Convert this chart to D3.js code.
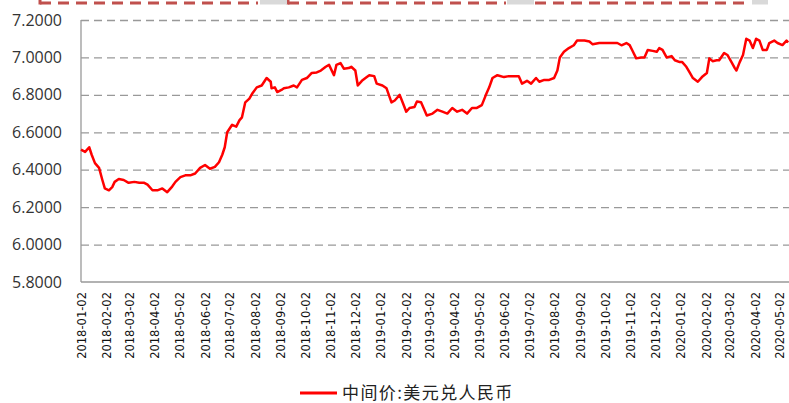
<!DOCTYPE html>
<html>
<head>
<meta charset="utf-8">
<script src="https://cdn.jsdelivr.net/npm/d3@7"></script>
<style>
  body { margin: 0; background: #fff; }
  svg { display: block; }
</style>
</head>
<body>
<div id="chart"></div>
<script>
// values
var dates = [
  "2018-01-02","2018-01-07","2018-01-12","2018-01-15","2018-01-19","2018-01-24","2018-01-28","2018-01-31",
  "2018-02-05","2018-02-09","2018-02-12","2018-02-17","2018-02-23","2018-03-01","2018-03-08","2018-03-14",
  "2018-03-20","2018-03-24","2018-03-30","2018-04-05","2018-04-11","2018-04-17","2018-04-23","2018-04-27",
  "2018-05-03","2018-05-09","2018-05-15","2018-05-21","2018-05-27","2018-06-02","2018-06-08","2018-06-14",
  "2018-06-19","2018-06-23","2018-06-26","2018-06-29","2018-07-05","2018-07-10","2018-07-14","2018-07-17",
  "2018-07-21","2018-07-26","2018-07-30","2018-08-04","2018-08-10","2018-08-16","2018-08-21","2018-08-22",
  "2018-08-26","2018-08-29","2018-09-03","2018-09-06","2018-09-12","2018-09-18","2018-09-22","2018-09-28",
  "2018-10-04","2018-10-10","2018-10-16","2018-10-21","2018-10-27","2018-10-31","2018-11-06","2018-11-09",
  "2018-11-14","2018-11-18","2018-11-24","2018-11-27","2018-12-02","2018-12-05","2018-12-10","2018-12-16",
  "2018-12-19","2018-12-25","2018-12-28","2019-01-04","2019-01-09","2019-01-15","2019-01-19","2019-01-25",
  "2019-01-29","2019-02-02","2019-02-06","2019-02-12","2019-02-15","2019-02-20","2019-02-24","2019-02-27",
  "2019-03-06","2019-03-12","2019-03-18","2019-03-24","2019-03-30","2019-04-05","2019-04-11","2019-04-17",
  "2019-04-23","2019-04-29","2019-05-05","2019-05-10","2019-05-14","2019-05-18","2019-05-24","2019-06-01",
  "2019-06-07","2019-06-13","2019-06-19","2019-06-23","2019-06-29","2019-07-04","2019-07-10","2019-07-14",
  "2019-07-20","2019-07-26","2019-08-01","2019-08-05","2019-08-08","2019-08-13","2019-08-19","2019-08-25",
  "2019-08-29","2019-09-07","2019-09-13","2019-09-17","2019-09-25","2019-10-07","2019-10-17","2019-10-22",
  "2019-10-28","2019-11-01","2019-11-04","2019-11-09","2019-11-15","2019-11-19","2019-11-23","2019-11-29",
  "2019-12-04","2019-12-07","2019-12-11","2019-12-16","2019-12-22","2019-12-26","2020-01-01","2020-01-04",
  "2020-01-09","2020-01-13","2020-01-17","2020-01-23","2020-01-28","2020-02-03","2020-02-06","2020-02-10",
  "2020-02-15","2020-02-18","2020-02-24","2020-02-28","2020-03-04","2020-03-08","2020-03-10","2020-03-14",
  "2020-03-18","2020-03-22","2020-03-26","2020-03-30","2020-04-03","2020-04-07","2020-04-11","2020-04-16",
  "2020-04-19","2020-04-25","2020-04-29","2020-05-05","2020-05-10","2020-05-12"
];
var rates = [
  6.507,6.495,6.52,6.48,6.435,6.41,6.345,6.30,
  6.29,6.307,6.335,6.35,6.345,6.33,6.335,6.33,
  6.33,6.32,6.29,6.29,6.30,6.28,6.31,6.335,
  6.36,6.37,6.37,6.38,6.41,6.425,6.405,6.415,
  6.44,6.48,6.52,6.60,6.64,6.63,6.665,6.68,
  6.76,6.78,6.81,6.84,6.85,6.89,6.87,6.835,
  6.84,6.815,6.826,6.835,6.84,6.85,6.84,6.88,
  6.89,6.917,6.92,6.93,6.95,6.96,6.905,6.96,
  6.97,6.94,6.943,6.95,6.93,6.85,6.875,6.895,
  6.905,6.90,6.86,6.85,6.835,6.76,6.77,6.80,
  6.755,6.71,6.73,6.735,6.765,6.76,6.72,6.69,
  6.70,6.72,6.71,6.70,6.73,6.71,6.72,6.70,
  6.73,6.73,6.745,6.80,6.84,6.89,6.905,6.895,
  6.90,6.90,6.90,6.86,6.875,6.86,6.89,6.87,
  6.88,6.88,6.89,6.93,7.00,7.03,7.05,7.065,
  7.09,7.09,7.085,7.07,7.077,7.077,7.077,7.065,
  7.077,7.066,7.04,6.995,7.00,7.00,7.04,7.035,
  7.03,7.05,7.04,7.00,7.007,6.985,6.975,6.975,
  6.95,6.92,6.89,6.87,6.895,6.917,6.995,6.98,
  6.985,6.985,7.024,7.013,6.975,6.943,6.93,6.975,
  7.013,7.10,7.09,7.05,7.10,7.09,7.04,7.04,
  7.077,7.09,7.077,7.066,7.09,7.08
];
var yTicks = [5.8, 6.0, 6.2, 6.4, 6.6, 6.8, 7.0, 7.2];
var xTickLabels = [
  "2018-01-02","2018-02-02","2018-03-02","2018-04-02","2018-05-02","2018-06-02","2018-07-02",
  "2018-08-02","2018-09-02","2018-10-02","2018-11-02","2018-12-02","2019-01-02","2019-02-02",
  "2019-03-02","2019-04-02","2019-05-02","2019-06-02","2019-07-02","2019-08-02","2019-09-02",
  "2019-10-02","2019-11-02","2019-12-02","2020-01-02","2020-02-02","2020-03-02","2020-04-02",
  "2020-05-02"
];
var seriesName = "中间价:美元兑人民币";

var W = 789, H = 403;
var margin = {top: 20, right: 0, bottom: 121, left: 81};
var plotW = W - margin.left - margin.right;
var plotH = H - margin.top - margin.bottom;

var parse = d3.timeParse("%Y-%m-%d");
var data = dates.map(function(d, i) {
  return {date: parse(d), value: rates[i]};
});

var xScale = d3.scaleTime()
  .domain([parse("2018-01-02"), parse("2020-05-13")])
  .range([0, plotW]);
var yScale = d3.scaleLinear()
  .domain([5.8, 7.2])
  .range([plotH, 0]);

var svg = d3.select("#chart").append("svg")
  .attr("width", W)
  .attr("height", H);

// cut-off dashed box at the very top of the picture
var topBar = svg.append("g");
[[40, 258], [288, 506], [535, 751]].forEach(function(seg) {
  topBar.append("line")
    .attr("x1", seg[0]).attr("x2", seg[1])
    .attr("y1", 3).attr("y2", 3)
    .attr("stroke", "#C0504D")
    .attr("stroke-width", 3)
    .attr("stroke-dasharray", "11,7");
});
[40, 288].forEach(function(x) {
  topBar.append("line")
    .attr("x1", x).attr("x2", x)
    .attr("y1", 0).attr("y2", 4.5)
    .attr("stroke", "#C0504D")
    .attr("stroke-width", 3);
});
[[260, 27], [507, 27], [752, 16]].forEach(function(b) {
  topBar.append("rect")
    .attr("x", b[0]).attr("y", 0)
    .attr("width", b[1]).attr("height", 4.5)
    .attr("fill", "#d9d9d9");
});

var g = svg.append("g")
  .attr("transform", "translate(" + margin.left + "," + margin.top + ")");

// y axis with dashed gridlines
var yAxis = g.append("g")
  .call(d3.axisLeft(yScale)
    .tickValues(yTicks)
    .tickFormat(d3.format(".4f"))
    .tickSize(-plotW)
    .tickPadding(19));
yAxis.select(".domain").remove();
yAxis.selectAll(".tick line")
  .attr("stroke", "#999")
  .attr("stroke-width", 1.3)
  .attr("stroke-dasharray", "8,5")
  .filter(function(d) { return d === 5.8; }).remove();
yAxis.selectAll(".tick text")
  .attr("fill", "#333")
  .style("font-family", "'Open Sans', sans-serif")
  .style("font-size", "16px");

// x axis, labels turned upright
var xAxis = g.append("g")
  .attr("transform", "translate(0," + plotH + ")")
  .call(d3.axisBottom(xScale)
    .tickValues(xTickLabels.map(parse))
    .tickFormat(d3.timeFormat("%Y-%m-%d"))
    .tickSize(0));
xAxis.select(".domain").remove();
xAxis.selectAll(".tick text")
  .attr("transform", "rotate(-90)")
  .attr("text-anchor", "end")
  .attr("x", -10)
  .attr("y", 0)
  .attr("dy", "0.35em")
  .attr("fill", "#111")
  .style("font-family", "'DejaVu Sans', sans-serif")
  .style("font-size", "11.5px");

// axis lines
g.append("line")
  .attr("x1", 0).attr("x2", 0)
  .attr("y1", 0).attr("y2", plotH)
  .attr("stroke", "#999").attr("stroke-width", 1.3);
g.append("line")
  .attr("x1", 0).attr("x2", plotW)
  .attr("y1", plotH).attr("y2", plotH)
  .attr("stroke", "#999").attr("stroke-width", 1.3);

var line = d3.line()
  .x(function(d) { return xScale(d.date); })
  .y(function(d) { return yScale(d.value); });

g.append("path")
  .datum(data)
  .attr("d", line)
  .attr("fill", "none")
  .attr("stroke", "#ff0000")
  .attr("stroke-width", 2.5)
  .attr("stroke-linejoin", "round");

// legend
var legend = svg.append("g").attr("transform", "translate(300,393)");
legend.append("line")
  .attr("x1", 0).attr("x2", 37)
  .attr("y1", 0).attr("y2", 0)
  .attr("stroke", "#ff0000")
  .attr("stroke-width", 3);
legend.append("text")
  .attr("x", 42)
  .attr("y", 0)
  .attr("dy", "0.35em")
  .attr("fill", "#222")
  .style("font-family", "'Noto Sans CJK SC', sans-serif")
  .style("font-size", "17px")
  .style("letter-spacing", "1.4px")
  .text(seriesName);
</script>
</body>
</html>
